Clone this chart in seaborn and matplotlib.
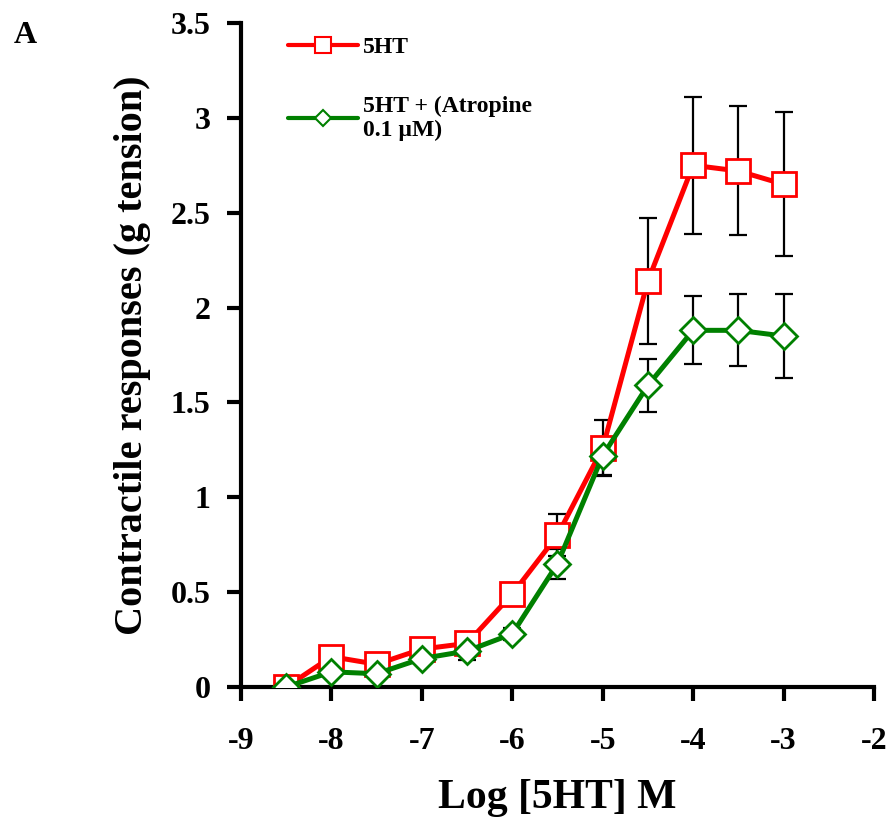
import numpy as np
import pandas as pd
import seaborn as sns
import matplotlib.pyplot as plt
from matplotlib.lines import Line2D

# values
log_conc = [-8.5, -8, -7.5, -7, -6.5, -6, -5.5, -5, -4.5, -4, -3.5, -3]
ht_mean = [0.0, 0.16, 0.12, 0.20, 0.23, 0.49, 0.80, 1.26, 2.14, 2.75, 2.72, 2.65]
ht_err = [0.0, 0.02, 0.02, 0.03, 0.03, 0.06, 0.11, 0.15, 0.33, 0.36, 0.34, 0.38]
atr_mean = [0.0, 0.08, 0.07, 0.15, 0.19, 0.28, 0.65, 1.22, 1.59, 1.88, 1.88, 1.85]
atr_err = [0.0, 0.02, 0.02, 0.02, 0.05, 0.03, 0.08, 0.10, 0.14, 0.18, 0.19, 0.22]
labels = ['5HT', '5HT + (Atropine\n0.1 µM)']

sns.set_style('white')
plt.rcParams['font.family'] = ['Liberation Serif', 'DejaVu Serif']
plt.rcParams['font.weight'] = 'bold'
for key in ['text.color', 'axes.labelcolor', 'xtick.color', 'ytick.color']:
    plt.rcParams[key] = 'black'

fig = plt.figure(figsize=(8.88, 8.21), dpi=100)
ax = fig.add_axes([0.2714, 0.1632, 0.7128, 0.8088])

df1 = pd.DataFrame({'x': log_conc, 'y': ht_mean})
df2 = pd.DataFrame({'x': log_conc, 'y': atr_mean})

# error bars behind the markers
ax.errorbar(log_conc, ht_mean, yerr=ht_err, fmt='none', ecolor='black',
            elinewidth=1.6, capsize=6.5, capthick=1.6, zorder=1)
ax.errorbar(log_conc, atr_mean, yerr=atr_err, fmt='none', ecolor='black',
            elinewidth=1.6, capsize=6.5, capthick=1.6, zorder=1)

sns.lineplot(data=df1, x='x', y='y', ax=ax, color='#ff0000', linewidth=3.6,
             marker='s', markersize=17, markerfacecolor='white',
             markeredgecolor='#ff0000', markeredgewidth=2, zorder=3)
sns.lineplot(data=df2, x='x', y='y', ax=ax, color='#008000', linewidth=3.6,
             marker='D', markersize=13, markerfacecolor='white',
             markeredgecolor='#008000', markeredgewidth=2, zorder=4)

ax.set_xlim(-9, -2)
ax.set_ylim(0, 3.5)
ax.set_xticks(np.arange(-9, -1, 1))
ax.set_yticks(np.arange(0, 3.51, 0.5))
ax.set_xticklabels([str(v) for v in range(-9, -1)])
ax.set_yticklabels(['0', '0.5', '1', '1.5', '2', '2.5', '3', '3.5'])

for side in ['top', 'right']:
    ax.spines[side].set_visible(False)
for side in ['left', 'bottom']:
    ax.spines[side].set_linewidth(3)
    ax.spines[side].set_color('black')
ax.tick_params(axis='both', direction='out', length=10, width=3,
               labelsize=23, left=True, bottom=True, colors='black')
ax.tick_params(axis='x', pad=19)
ax.tick_params(axis='y', pad=12)
for lab in ax.get_xticklabels() + ax.get_yticklabels():
    lab.set_fontweight('bold')

ax.set_xlabel('Log [5HT] M', fontsize=30, fontweight='bold', labelpad=16)
ax.set_ylabel('Contractile responses (g tension)', fontsize=29,
              fontweight='bold', labelpad=14)

handles = [
    Line2D([], [], color='#ff0000', linewidth=3, marker='s', markersize=11,
           markerfacecolor='white', markeredgecolor='#ff0000', markeredgewidth=1.5),
    Line2D([], [], color='#008000', linewidth=3, marker='D', markersize=8,
           markerfacecolor='white', markeredgecolor='#008000', markeredgewidth=1.5),
]
ax.legend(handles, labels, loc='upper left', bbox_to_anchor=(0.04, 1.012),
          frameon=False, handlelength=3.0, handletextpad=0.2,
          labelspacing=1.6, prop={'size': 17, 'weight': 'bold'})

fig.text(0.015, 0.948, 'A', fontsize=23, fontweight='bold')

fig.savefig('out.png', dpi=100)
